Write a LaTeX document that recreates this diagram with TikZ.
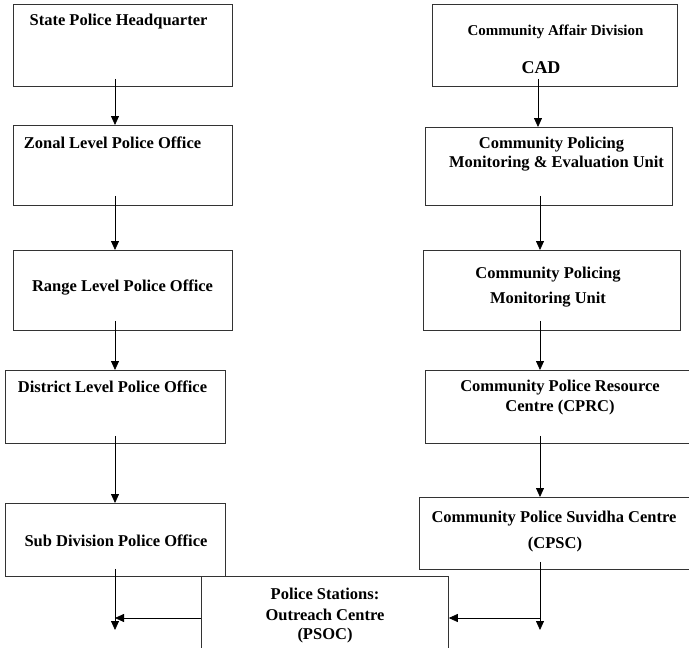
\documentclass[tikz,border=0pt]{standalone}
\usepackage{fontspec}
\setmainfont{Liberation Serif}
\usetikzlibrary{arrows.meta,calc}
\begin{document}
\begin{tikzpicture}[x=1pt,y=-1pt,
  box/.style={draw=black!80,line width=0.8pt,inner sep=0pt,anchor=north west},
  lbl/.style={font=\bfseries\fontsize{16.5}{18}\selectfont,inner sep=0pt,align=center},
  mid/.style={font=\bfseries\fontsize{15}{17}\selectfont,inner sep=0pt},
  big/.style={font=\bfseries\fontsize{18}{20}\selectfont,inner sep=0pt},
  arr/.style={line width=0.8pt,-{Triangle[width=8pt,length=9pt]}},
  ln/.style={line width=0.8pt}]
\useasboundingbox (0,0) rectangle (689,648);
% left column boxes
\node[box,minimum width=219pt,minimum height=82pt] (b1) at (13,4) {};
\node[box,minimum width=219pt,minimum height=80pt] (b2) at (13,125) {};
\node[box,minimum width=219pt,minimum height=80pt] (b3) at (13,250) {};
\node[box,minimum width=220pt,minimum height=73pt] (b4) at (5,370) {};
\node[box,minimum width=220pt,minimum height=73pt] (b5) at (5,503) {};
% right column boxes
\node[box,minimum width=245pt,minimum height=82pt] (r1) at (432,4) {};
\node[box,minimum width=247pt,minimum height=78pt] (r2) at (425,127) {};
\node[box,minimum width=257pt,minimum height=80pt] (r3) at (423,250) {};
\node[box,minimum width=266pt,minimum height=73pt] (r4) at (425,370) {};
\node[box,minimum width=272pt,minimum height=72pt] (r5) at (419,497) {};
% PSOC
\node[box,minimum width=247pt,minimum height=80pt] (ps) at (201,576) {};
% texts
\node[lbl] (t1) at (118.5,22) {State Police Headquarter};
\node[lbl] (t2) at (112.5,143) {Zonal Level Police Office};
\node[lbl] (t3) at (122.5,288) {Range Level Police Office};
\node[lbl] (t4) at (112.5,387) {District Level Police Office};
\node[lbl] (t5) at (116,541) {Sub Division Police Office};
\node[mid] (u1) at (555.5,32) {Community Affair Division};
\node[big] (u1b) at (541,68) {CAD};
\node[lbl] (u2) at (551.5,145) {Community Policing};
\node[lbl] (u2b) at (556.5,164) {Monitoring \& Evaluation Unit};
\node[lbl] (u3) at (548,275) {Community Policing};
\node[lbl] (u3b) at (548,300) {Monitoring Unit};
\node[lbl] (u4) at (560,388) {Community Police Resource};
\node[lbl] (u4b) at (560,408) {Centre (CPRC)};
\node[lbl] (u5) at (554,519) {Community Police Suvidha Centre};
\node[lbl] (u5b) at (555,545) {(CPSC)};
\node[lbl] (p1) at (325,594) {Police Stations:};
\node[lbl] (p2) at (325,615) {Outreach Centre};
\node[lbl] (p3) at (325,636) {(PSOC)};
% left arrows
\draw[arr] ($(b1.south west)+(102,-8)$) -- ($(b2.north west)+(102,0)$);
\draw[arr] ($(b2.south west)+(102,-10)$) -- ($(b3.north west)+(102,0)$);
\draw[arr] ($(b3.south west)+(102,-10)$) -- ($(b4.north west)+(110,0)$);
\draw[arr] ($(b4.south west)+(110,-8)$) -- ($(b5.north west)+(110,0)$);
% right arrows
\draw[arr] ($(r1.south west)+(106,-8)$) -- ($(r2.north west)+(113,0)$);
\draw[arr] ($(r2.south west)+(115,-10)$) -- ($(r3.north west)+(117,0)$);
\draw[arr] ($(r3.south west)+(117,-10)$) -- ($(r4.north west)+(115,0)$);
\draw[arr] ($(r4.south west)+(115,-8)$) -- ($(r5.north west)+(121,0)$);
% bottom connectors
\coordinate (ld) at (115,630);
\coordinate (lh) at (115,618);
\coordinate (rd) at (540,630);
\coordinate (rh) at (540,618);
\draw[arr] ($(b5.south west)+(110,-8)$) -- (ld);
\draw[arr] (ps.west |- lh) -- (lh);
\draw[arr] ($(r5.south west)+(121,-8)$) -- (rd);
\draw[arr] (rh) -- (ps.east |- rh);
\end{tikzpicture}
\end{document}
